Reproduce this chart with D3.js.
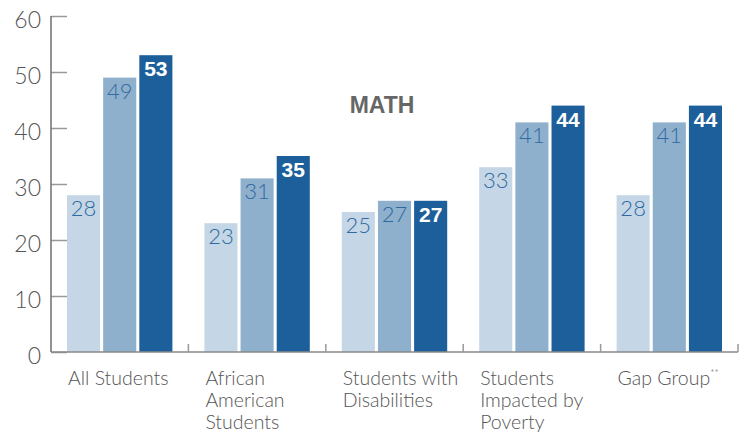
<!DOCTYPE html>
<html><head><meta charset="utf-8">
<script src="https://cdnjs.cloudflare.com/ajax/libs/d3/7.8.5/d3.min.js"></script>
<style>
html,body{margin:0;padding:0;background:#fff;}
svg{display:block;}
</style></head>
<body>
<svg id="c" width="744" height="433"></svg>
<script>
const categories = ["All Students", "African American Students", "Students with Disabilities", "Students Impacted by Poverty", "Gap Group"];
const categoryLines = [["All Students"], ["African", "American", "Students"], ["Students with", "Disabilities"], ["Students", "Impacted by", "Poverty"], ["Gap Group"]];
const categorySup = ["", "", "", "", "**"];
const series1 = [28, 23, 25, 33, 28];
const series2 = [49, 31, 27, 41, 41];
const series3 = [53, 35, 27, 44, 44];
const yTicks = [0, 10, 20, 30, 40, 50, 60];
const panelLabel = "MATH";

(function() {
const svg = d3.select("#c");
const mLeft = 51, mRight = 738, mTop = 16, mBottom = 352;
const fontNum = "Lato, 'Open Sans', 'DejaVu Sans', sans-serif";

const x0 = d3.scaleBand().domain(categories).range([mLeft, mRight]).paddingInner(0).paddingOuter(0);
const keys = ["s1", "s2", "s3"];
const x1 = d3.scaleBand().domain(keys).range([16, x0.bandwidth() - 16]).paddingInner(0.085).paddingOuter(0);
const y = d3.scaleLinear().domain([0, 60]).range([mBottom, mTop]);
const colors = {s1: "#c5d7e6", s2: "#8fb0cc", s3: "#1d5f9a"};

const rows = categories.map((c, i) => ({cat: c, s1: series1[i], s2: series2[i], s3: series3[i]}));

// bars
const g = svg.append("g");
const grp = g.selectAll("g.grp").data(rows).join("g").attr("class", "grp")
  .attr("transform", d => `translate(${x0(d.cat)},0)`);
grp.selectAll("rect").data(d => keys.map(k => ({k, v: d[k]}))).join("rect")
  .attr("x", d => x1(d.k)).attr("width", x1.bandwidth())
  .attr("y", d => y(d.v)).attr("height", d => y(0) - y(d.v))
  .attr("fill", d => colors[d.k]);
grp.selectAll("text.val").data(d => keys.map(k => ({k, v: d[k]}))).join("text").attr("class", "val")
  .attr("x", d => x1(d.k) + x1.bandwidth() / 2)
  .attr("y", d => y(d.v) + 21)
  .attr("text-anchor", "middle")
  .attr("font-family", d => d.k === "s3" ? "'Liberation Sans', Arial, sans-serif" : fontNum)
  .attr("font-weight", d => d.k === "s3" ? 700 : 300)
  .attr("font-size", d => d.k === "s3" ? 21 : 22)
  .attr("fill", d => d.k === "s3" ? "#ffffff" : "#2f6aa1")
  .text(d => d.v);

// y axis
const yAxis = d3.axisRight(y).tickValues(yTicks).tickSize(16).tickFormat("");
const ya = svg.append("g").attr("transform", `translate(${mLeft},0)`).call(yAxis);
ya.select(".domain").remove();
ya.selectAll(".tick line").attr("stroke", "#999").attr("stroke-width", 1.5);
svg.append("line").attr("x1", mLeft).attr("x2", mLeft).attr("y1", mTop).attr("y2", mBottom)
  .attr("stroke", "#777").attr("stroke-width", 1.6);
svg.append("g").selectAll("text").data(yTicks).join("text")
  .attr("x", 41).attr("y", d => y(d) + 12)
  .attr("text-anchor", "end").attr("font-family", fontNum).attr("font-weight", 300)
  .attr("font-size", 23).attr("fill", "#555").text(d => d);

// x axis
svg.append("line").attr("x1", mLeft).attr("x2", mRight).attr("y1", mBottom).attr("y2", mBottom)
  .attr("stroke", "#888").attr("stroke-width", 1.6);
const boundaries = categories.slice(1).map(c => x0(c)).concat([mRight]);
svg.append("g").selectAll("line").data(boundaries).join("line")
  .attr("x1", d => d).attr("x2", d => d).attr("y1", mBottom).attr("y2", mBottom - 8)
  .attr("stroke", "#999").attr("stroke-width", 1.5);

// category labels
const cl = svg.append("g").selectAll("text").data(categories).join("text")
  .attr("x", d => x0(d) + 17).attr("y", 385)
  .attr("font-family", fontNum).attr("font-weight", 300).attr("font-size", 19.5).attr("fill", "#555");
cl.each(function(d, i) {
  const t = d3.select(this);
  categoryLines[i].forEach((line, j) => {
    t.append("tspan").attr("x", x0(d) + 17).attr("dy", j === 0 ? 0 : 22).text(line);
  });
  if (categorySup[i]) {
    t.append("tspan").attr("font-size", 10).attr("dy", -9).text(categorySup[i]);
  }
});

// panel label
svg.append("text").attr("x", 382).attr("y", 113).attr("text-anchor", "middle")
  .attr("font-family", "'Liberation Sans', Arial, sans-serif").attr("font-weight", 700)
  .attr("font-size", 23).attr("fill", "#666").text(panelLabel);
})();
</script>
</body></html>
